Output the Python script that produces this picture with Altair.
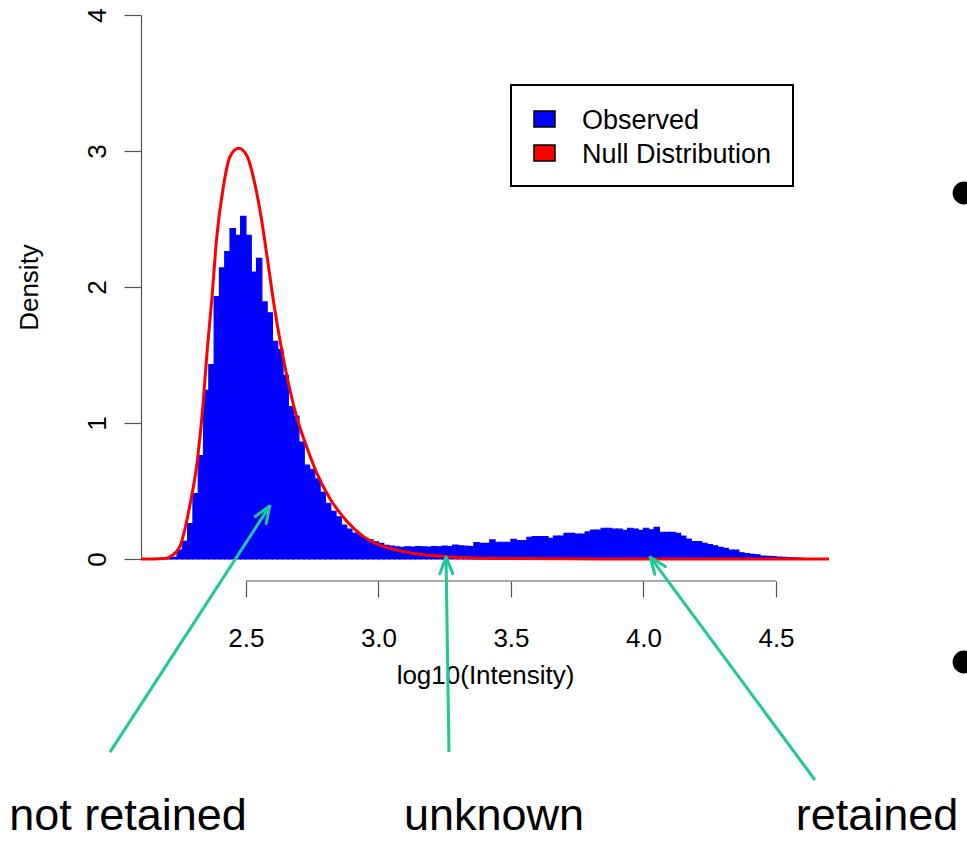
import math
import altair as alt
import pandas as pd

# ------------------------------------------------------------------ data
# Histogram of observed log10(Intensity): bins of width 0.02 starting at 2.20
bin_start = 2.20
bin_width = 0.02
observed_density = [
    0.004, 0.012, 0.066, 0.13, 0.26, 0.48, 0.76, 1.24, 1.43, 1.93,      # 2.20-2.38
    2.14, 2.26, 2.43, 2.38, 2.52, 2.38, 2.11, 2.21, 1.89, 1.81,          # 2.40-2.58
    1.60, 1.54, 1.35, 1.12, 1.05, 0.86, 0.69, 0.66, 0.59, 0.49,          # 2.60-2.78
    0.41, 0.35, 0.31, 0.25, 0.22, 0.19, 0.176, 0.15, 0.14, 0.127,        # 2.80-2.98
    0.115, 0.10, 0.095, 0.09, 0.086, 0.09, 0.088, 0.092, 0.09, 0.088,    # 3.00-3.18
    0.092, 0.09, 0.095, 0.092, 0.103, 0.096, 0.094, 0.091, 0.12, 0.115,  # 3.20-3.38
    0.115, 0.14, 0.123, 0.123, 0.123, 0.145, 0.135, 0.135, 0.16, 0.164,  # 3.40-3.58
    0.164, 0.164, 0.152, 0.169, 0.169, 0.189, 0.189, 0.184, 0.184, 0.199,  # 3.60-3.78
    0.213, 0.213, 0.226, 0.226, 0.22, 0.22, 0.21, 0.226, 0.22, 0.21,     # 3.80-3.98
    0.226, 0.215, 0.233, 0.196, 0.196, 0.196, 0.189, 0.169, 0.147, 0.128,  # 4.00-4.18
    0.128, 0.115, 0.105, 0.096, 0.085, 0.078, 0.066, 0.066, 0.046, 0.04,   # 4.20-4.38
    0.034, 0.03, 0.022, 0.02, 0.017, 0.014, 0.012, 0.01, 0.008, 0.006,    # 4.40-4.58
]

# Null distribution density curve
null_x = [2.104, 2.15, 2.19, 2.214, 2.25, 2.29, 2.315, 2.335, 2.355, 2.372,
          2.39, 2.415, 2.44, 2.473, 2.505, 2.53, 2.555, 2.58, 2.605, 2.63,
          2.655, 2.695, 2.73, 2.77, 2.815, 2.88, 2.94, 3.00, 3.07, 3.13,
          3.19, 3.26, 3.35, 3.50, 3.70, 4.00, 4.70]
null_density = [0, 0, 0.003, 0.017, 0.09, 0.41, 0.70, 1.07, 1.56, 1.93,
                2.37, 2.74, 2.96, 3.02, 2.96, 2.79, 2.54, 2.22, 1.88, 1.59,
                1.34, 1.02, 0.82, 0.62, 0.45, 0.28, 0.17, 0.105, 0.065, 0.042,
                0.027, 0.017, 0.008, 0.003, 0.001, 0, 0]

x_ticks = [2.5, 3.0, 3.5, 4.0, 4.5]
y_ticks = [0, 1, 2, 3, 4]

legend_labels = ["Observed", "Null Distribution"]
legend_colors = ["#0000FF", "#FF0000"]

# annotation arrows (data units: tail -> tip)
arrow_tail_x = [1.987, 3.266, 4.647]
arrow_tail_y = [-1.42, -1.42, -1.625]
arrow_tip_x = [2.59, 3.255, 4.025]
arrow_tip_y = [0.39, 0.015, 0.015]
region_labels = ["not retained", "unknown", "retained"]

# ------------------------------------------------------------------ layout / style
FONT = "Liberation Sans"
BLUE, RED, GREEN, AX = "#0000FF", "#FF0000", "#1FC898", "#555555"
X_DOMAIN = [2.104, 4.70]
Y_DOMAIN = [0, 4]
W, H = 688, 544
LEFT, TOP = 141, 15
PAD = {"left": LEFT, "top": TOP, "right": 967 - LEFT - W, "bottom": 841 - TOP - H}
X_AXIS_OFFSET = 22

xs = alt.Scale(domain=X_DOMAIN, nice=False, zero=False)
ys = alt.Scale(domain=Y_DOMAIN, nice=False, zero=False)

hist_df = pd.DataFrame({
    "lo": [round(bin_start + i * bin_width, 4) for i in range(len(observed_density))],
    "d": observed_density,
})
hist_df["hi"] = (hist_df["lo"] + bin_width).round(4)

null_df = pd.DataFrame({"x": null_x, "d": null_density})

x_axis = alt.Axis(
    values=x_ticks, format=".1f", domain=False, grid=False,
    tickSize=16, tickColor=AX, tickWidth=1.2,
    labelFontSize=26, labelFont=FONT, labelColor="black", labelPadding=28,
    labelFlush=False, labelOverlap=False, offset=X_AXIS_OFFSET,
    title="log10(Intensity)", titleFontSize=26, titleFont=FONT,
    titleFontWeight="normal", titleColor="black",
    titleBaseline="alphabetic", titleY=102,
)
y_axis = alt.Axis(
    values=y_ticks, format="d", grid=False,
    domainColor=AX, domainWidth=1.2,
    tickSize=17, tickColor=AX, tickWidth=1.2,
    labelAngle=270, labelAlign="center", labelBaseline="middle",
    labelFontSize=26, labelFont=FONT, labelColor="black", labelPadding=26.5,
    labelFlush=False,
    title="Density", titleAngle=270, titleAlign="center", titleBaseline="middle",
    titleX=-112, titleY=H / 2, titleFontSize=26, titleFont=FONT,
    titleFontWeight="normal", titleColor="black",
)

bars = alt.Chart(hist_df).mark_rect(color=BLUE, stroke=BLUE, strokeWidth=1.2).encode(
    x=alt.X("lo:Q", scale=xs, axis=x_axis),
    x2="hi:Q",
    y=alt.Y("d:Q", scale=ys, axis=y_axis),
    y2=alt.datum(0),
)

null_line = alt.Chart(null_df).mark_line(
    color=RED, strokeWidth=3, interpolate="monotone"
).encode(
    x=alt.X("x:Q", scale=xs),
    y=alt.Y("d:Q", scale=ys),
)

# R-style x-axis line spanning first to last tick only
axis_line = alt.Chart(pd.DataFrame({"a": [min(x_ticks)], "b": [max(x_ticks)]})).mark_rule(
    color=AX, strokeWidth=1.2
).encode(
    x=alt.X("a:Q", scale=xs), x2="b:Q", y=alt.value(H + X_AXIS_OFFSET)
)

# arrows
px_x = W / (X_DOMAIN[1] - X_DOMAIN[0])
px_y = H / (Y_DOMAIN[1] - Y_DOMAIN[0])
angles = []
for tx, ty, hx, hy in zip(arrow_tail_x, arrow_tail_y, arrow_tip_x, arrow_tip_y):
    dx = (hx - tx) * px_x
    dup = (hy - ty) * px_y
    angles.append(math.degrees(math.atan2(dx, dup)) % 360)
arrow_df = pd.DataFrame({"tx": arrow_tail_x, "ty": arrow_tail_y,
                         "hx": arrow_tip_x, "hy": arrow_tip_y, "ang": angles})

shafts = alt.Chart(arrow_df).mark_rule(color=GREEN, strokeWidth=3).encode(
    x=alt.X("tx:Q", scale=xs), y=alt.Y("ty:Q", scale=ys),
    x2="hx:Q", y2="hy:Q",
)
CHEVRON = "M -0.36 0.93 L 0 0 L 0.36 0.93"
heads = alt.Chart(arrow_df).mark_point(
    shape=CHEVRON, filled=False, size=1300, strokeWidth=3, color=GREEN, opacity=1,
    strokeCap="round", strokeJoin="round",
).encode(
    x=alt.X("hx:Q", scale=xs), y=alt.Y("hy:Q", scale=ys),
    angle=alt.Angle("ang:Q", scale=None),
)

layers = [bars, null_line, axis_line, shafts, heads]

# legend (drawn by hand, R style)
one = pd.DataFrame({"k": [0]})
LEG_X0, LEG_X1, LEG_Y0, LEG_Y1 = 370, 652, 70, 171
layers.append(alt.Chart(one).mark_rect(fill="white", stroke="black", strokeWidth=2).encode(
    x=alt.value(LEG_X0), x2=alt.value(LEG_X1), y=alt.value(LEG_Y0), y2=alt.value(LEG_Y1)))
for i, (lab, col) in enumerate(zip(legend_labels, legend_colors)):
    cy = 104 + 34 * i
    layers.append(alt.Chart(one).mark_rect(fill=col, stroke="black", strokeWidth=1.5).encode(
        x=alt.value(393), x2=alt.value(414), y=alt.value(cy - 8), y2=alt.value(cy + 8)))
    layers.append(alt.Chart(one).mark_text(
        align="left", baseline="alphabetic", fontSize=27, font=FONT, color="black"
    ).encode(x=alt.value(441), y=alt.value(cy + 10), text=alt.value(lab)))

# region labels under the arrows
label_px = [-13, 353, 736]
for lab, px in zip(region_labels, label_px):
    layers.append(alt.Chart(one).mark_text(
        align="center", baseline="alphabetic", fontSize=45, font=FONT, color="black"
    ).encode(x=alt.value(px), y=alt.value(815), text=alt.value(lab)))

# slide bullets at the right edge
for by in [178, 647]:
    layers.append(alt.Chart(one).mark_circle(size=520, color="black", opacity=1).encode(
        x=alt.value(823), y=alt.value(by)))

chart = alt.layer(*layers).properties(
    width=W, height=H, padding=PAD,
    autosize=alt.AutoSizeParams(type="none"),
    background="white",
).configure_view(stroke=None)

chart.save("out.html", embed_options={"renderer": "svg", "actions": False})
